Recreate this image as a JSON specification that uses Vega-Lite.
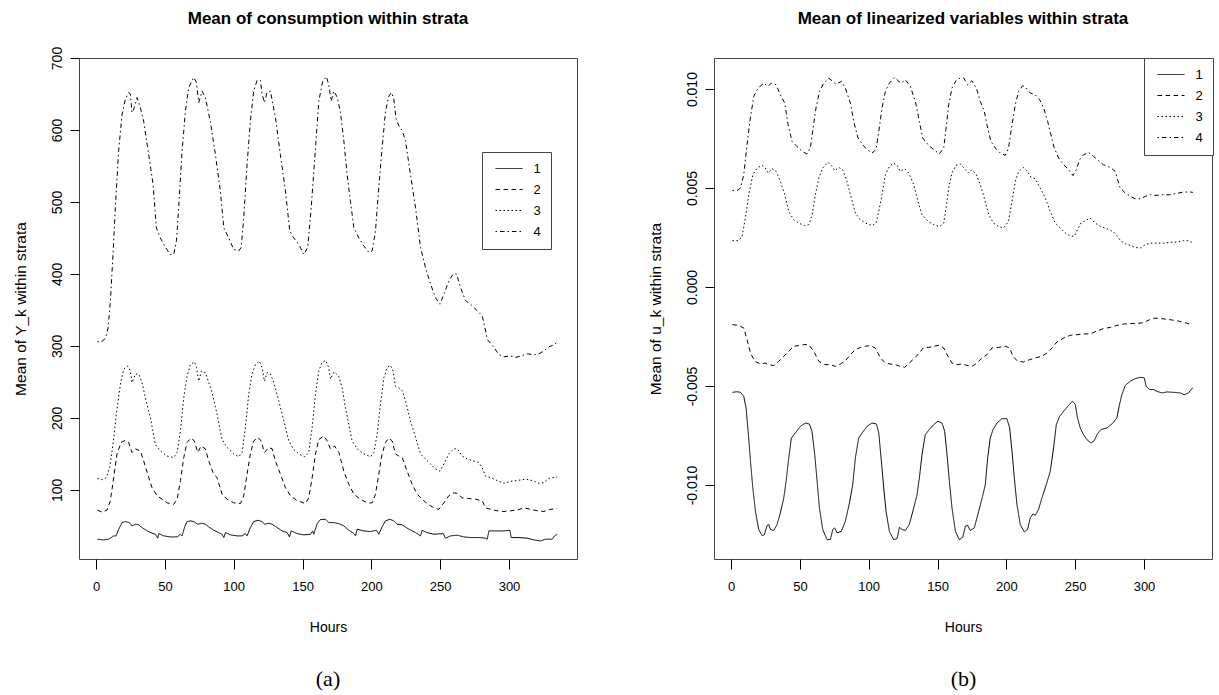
{
  "$schema": "https://vega.github.io/schema/vega-lite/v6.json",
  "background": "white",
  "padding": {"left": 12, "top": 9, "right": 4, "bottom": 4},
  "config": {
    "font": "Liberation Sans",
    "view": {"stroke": "#444", "strokeWidth": 1},
    "axis": {"domain": false, "grid": false, "ticks": true, "tickColor": "black", "labelColor": "black", "titleColor": "black", "labelFontSize": 13, "titleFontSize": 14, "titleFontWeight": "normal", "labelFont": "Liberation Sans", "titleFont": "Liberation Sans"},
    "axisX": {"tickSize": 10, "labelPadding": 11, "titlePadding": 27, "labelFlush": false},
    "axisY": {"tickSize": 9, "labelAngle": -90, "labelPadding": 6, "titlePadding": 22, "labelBaseline": "bottom", "labelAlign": "center", "labelFontSize": 14, "titleFontSize": 15.5},
    "title": {"fontSize": 17, "fontWeight": "bold", "font": "Liberation Sans", "color": "black", "anchor": "middle", "frame": "group", "offset": 18},
    "legend": {"title": null, "orient": "none", "symbolType": "M-1,0H8", "symbolSize": 36, "symbolStrokeWidth": 1, "symbolStrokeColor": "black", "symbolFillColor": "transparent", "labelFontSize": 13, "labelColor": "black", "strokeColor": "#444", "fillColor": "white", "padding": 10, "rowPadding": 7, "labelOffset": 28.5},
    "concat": {"spacing": 69}
  },
  "datasets": {
    "a": [
      {"s":"4","h":1,"v":306},{"s":"4","h":3,"v":305},{"s":"4","h":5.5,"v":308},{"s":"4","h":7,"v":312},{"s":"4","h":8.7,"v":325},{"s":"4","h":10.4,"v":362},{"s":"4","h":12.3,"v":427},{"s":"4","h":14,"v":492},{"s":"4","h":16.4,"v":571},{"s":"4","h":18.9,"v":622},{"s":"4","h":21.3,"v":643},{"s":"4","h":23.7,"v":652},{"s":"4","h":24.9,"v":650},{"s":"4","h":26.1,"v":624},{"s":"4","h":27.8,"v":631},{"s":"4","h":29.8,"v":645},{"s":"4","h":32.2,"v":631},{"s":"4","h":34.6,"v":612},{"s":"4","h":38.2,"v":566},{"s":"4","h":41.4,"v":525},{"s":"4","h":43.8,"v":464},{"s":"4","h":46.7,"v":450},{"s":"4","h":50.4,"v":437},{"s":"4","h":54,"v":427},{"s":"4","h":56.4,"v":427},{"s":"4","h":58.4,"v":446},{"s":"4","h":60,"v":492},{"s":"4","h":62.5,"v":571},{"s":"4","h":64.9,"v":626},{"s":"4","h":67.3,"v":659},{"s":"4","h":70.9,"v":673},{"s":"4","h":72.9,"v":666},{"s":"4","h":74.6,"v":638},{"s":"4","h":77,"v":654},{"s":"4","h":79.4,"v":645},{"s":"4","h":83,"v":612},{"s":"4","h":86.7,"v":566},{"s":"4","h":90.3,"v":515},{"s":"4","h":92.8,"v":464},{"s":"4","h":96.4,"v":450},{"s":"4","h":100,"v":434},{"s":"4","h":103.7,"v":432},{"s":"4","h":105.4,"v":437},{"s":"4","h":107.3,"v":478},{"s":"4","h":109.7,"v":552},{"s":"4","h":112.1,"v":612},{"s":"4","h":114.5,"v":654},{"s":"4","h":117,"v":669},{"s":"4","h":119.4,"v":669},{"s":"4","h":120.6,"v":650},{"s":"4","h":122.3,"v":638},{"s":"4","h":124.2,"v":652},{"s":"4","h":126.7,"v":654},{"s":"4","h":130.3,"v":617},{"s":"4","h":133.9,"v":566},{"s":"4","h":137.6,"v":515},{"s":"4","h":140.7,"v":460},{"s":"4","h":143.6,"v":450},{"s":"4","h":147.3,"v":441},{"s":"4","h":150.9,"v":427},{"s":"4","h":153.8,"v":437},{"s":"4","h":156.3,"v":492},{"s":"4","h":159.4,"v":575},{"s":"4","h":161.8,"v":640},{"s":"4","h":164.7,"v":668},{"s":"4","h":167.4,"v":674},{"s":"4","h":169,"v":663},{"s":"4","h":170.8,"v":640},{"s":"4","h":172.7,"v":654},{"s":"4","h":175.1,"v":646},{"s":"4","h":177.6,"v":624},{"s":"4","h":180,"v":585},{"s":"4","h":182.4,"v":538},{"s":"4","h":184.8,"v":501},{"s":"4","h":187.3,"v":464},{"s":"4","h":190.9,"v":450},{"s":"4","h":194.5,"v":439},{"s":"4","h":198.2,"v":430},{"s":"4","h":200.6,"v":432},{"s":"4","h":203,"v":460},{"s":"4","h":205.4,"v":520},{"s":"4","h":207.8,"v":575},{"s":"4","h":210.3,"v":626},{"s":"4","h":212.7,"v":647},{"s":"4","h":214.6,"v":652},{"s":"4","h":216.3,"v":643},{"s":"4","h":218,"v":615},{"s":"4","h":220,"v":606},{"s":"4","h":222.4,"v":599},{"s":"4","h":224.8,"v":585},{"s":"4","h":228.4,"v":538},{"s":"4","h":232.1,"v":492},{"s":"4","h":235.7,"v":437},{"s":"4","h":239.3,"v":409},{"s":"4","h":243,"v":386},{"s":"4","h":246.6,"v":367},{"s":"4","h":249.8,"v":358},{"s":"4","h":252.7,"v":372},{"s":"4","h":256.3,"v":390},{"s":"4","h":259.4,"v":400},{"s":"4","h":261.9,"v":400},{"s":"4","h":264.8,"v":381},{"s":"4","h":268.4,"v":363},{"s":"4","h":272,"v":358},{"s":"4","h":276.9,"v":349},{"s":"4","h":280.5,"v":342},{"s":"4","h":283,"v":321},{"s":"4","h":284.2,"v":309},{"s":"4","h":289,"v":298},{"s":"4","h":292.6,"v":288},{"s":"4","h":296.3,"v":285},{"s":"4","h":301.1,"v":286},{"s":"4","h":304.7,"v":284},{"s":"4","h":308.4,"v":286},{"s":"4","h":313.2,"v":289},{"s":"4","h":318,"v":288},{"s":"4","h":321.7,"v":289},{"s":"4","h":325.3,"v":293},{"s":"4","h":329,"v":299},{"s":"4","h":332.1,"v":301},{"s":"4","h":335,"v":305},
      {"s":"3","h":1,"v":116},{"s":"3","h":4.3,"v":114},{"s":"3","h":7.5,"v":117},{"s":"3","h":9.9,"v":131},{"s":"3","h":12.3,"v":163},{"s":"3","h":14.7,"v":205},{"s":"3","h":17.7,"v":247},{"s":"3","h":20.1,"v":268},{"s":"3","h":23,"v":272},{"s":"3","h":24.9,"v":265},{"s":"3","h":26.1,"v":249},{"s":"3","h":28.6,"v":261},{"s":"3","h":31,"v":261},{"s":"3","h":33.4,"v":249},{"s":"3","h":35.8,"v":228},{"s":"3","h":39.5,"v":200},{"s":"3","h":43.1,"v":163},{"s":"3","h":46.7,"v":154},{"s":"3","h":51.6,"v":147},{"s":"3","h":56.4,"v":145},{"s":"3","h":58.9,"v":152},{"s":"3","h":61.3,"v":182},{"s":"3","h":63.7,"v":228},{"s":"3","h":66.1,"v":258},{"s":"3","h":68.5,"v":274},{"s":"3","h":71.4,"v":278},{"s":"3","h":72.9,"v":270},{"s":"3","h":74.6,"v":251},{"s":"3","h":76.5,"v":265},{"s":"3","h":79.4,"v":263},{"s":"3","h":81.9,"v":249},{"s":"3","h":84.3,"v":235},{"s":"3","h":87.9,"v":205},{"s":"3","h":91.5,"v":170},{"s":"3","h":95.2,"v":159},{"s":"3","h":100,"v":150},{"s":"3","h":103.7,"v":146},{"s":"3","h":106.1,"v":152},{"s":"3","h":108.5,"v":187},{"s":"3","h":110.9,"v":233},{"s":"3","h":113.3,"v":261},{"s":"3","h":115.8,"v":274},{"s":"3","h":118.7,"v":279},{"s":"3","h":120.6,"v":270},{"s":"3","h":122.3,"v":251},{"s":"3","h":124.2,"v":263},{"s":"3","h":126.7,"v":261},{"s":"3","h":129.1,"v":249},{"s":"3","h":132.7,"v":224},{"s":"3","h":136.4,"v":196},{"s":"3","h":140,"v":168},{"s":"3","h":143.6,"v":156},{"s":"3","h":147.3,"v":150},{"s":"3","h":151.6,"v":146},{"s":"3","h":154.5,"v":152},{"s":"3","h":157,"v":187},{"s":"3","h":159.4,"v":233},{"s":"3","h":161.8,"v":265},{"s":"3","h":164.2,"v":277},{"s":"3","h":166.7,"v":280},{"s":"3","h":169,"v":270},{"s":"3","h":170.3,"v":254},{"s":"3","h":172.9,"v":264},{"s":"3","h":176.3,"v":258},{"s":"3","h":178.8,"v":242},{"s":"3","h":181.2,"v":214},{"s":"3","h":183.6,"v":191},{"s":"3","h":186,"v":168},{"s":"3","h":189.7,"v":157},{"s":"3","h":194.5,"v":150},{"s":"3","h":199.4,"v":146},{"s":"3","h":201.8,"v":152},{"s":"3","h":204.2,"v":177},{"s":"3","h":206.6,"v":219},{"s":"3","h":209.1,"v":256},{"s":"3","h":211.5,"v":270},{"s":"3","h":213.9,"v":273},{"s":"3","h":215.8,"v":265},{"s":"3","h":217.5,"v":244},{"s":"3","h":220,"v":242},{"s":"3","h":222.4,"v":238},{"s":"3","h":224.8,"v":224},{"s":"3","h":228.4,"v":196},{"s":"3","h":232.1,"v":173},{"s":"3","h":235.7,"v":150},{"s":"3","h":239.3,"v":143},{"s":"3","h":243,"v":136},{"s":"3","h":246.6,"v":129},{"s":"3","h":249.8,"v":126},{"s":"3","h":252.7,"v":136},{"s":"3","h":256.3,"v":150},{"s":"3","h":259.9,"v":157},{"s":"3","h":262.4,"v":157},{"s":"3","h":266,"v":147},{"s":"3","h":269.6,"v":143},{"s":"3","h":274.5,"v":140},{"s":"3","h":278.1,"v":138},{"s":"3","h":280.5,"v":131},{"s":"3","h":283,"v":119},{"s":"3","h":286.6,"v":117},{"s":"3","h":291.4,"v":113},{"s":"3","h":296.3,"v":109},{"s":"3","h":301.1,"v":112},{"s":"3","h":306,"v":113},{"s":"3","h":312,"v":115},{"s":"3","h":316.9,"v":113},{"s":"3","h":321.7,"v":109},{"s":"3","h":325.3,"v":110},{"s":"3","h":329,"v":116},{"s":"3","h":335,"v":118},
      {"s":"2","h":1,"v":72},{"s":"2","h":4.3,"v":69},{"s":"2","h":8,"v":72},{"s":"2","h":10.4,"v":85},{"s":"2","h":12.8,"v":117},{"s":"2","h":15.2,"v":150},{"s":"2","h":18.2,"v":166},{"s":"2","h":21.3,"v":169},{"s":"2","h":23.7,"v":166},{"s":"2","h":26.1,"v":152},{"s":"2","h":28.6,"v":157},{"s":"2","h":32.2,"v":154},{"s":"2","h":34.6,"v":140},{"s":"2","h":37.5,"v":122},{"s":"2","h":40.7,"v":103},{"s":"2","h":44.3,"v":92},{"s":"2","h":47.9,"v":87},{"s":"2","h":51.6,"v":82},{"s":"2","h":56.4,"v":80},{"s":"2","h":58.9,"v":87},{"s":"2","h":61.3,"v":113},{"s":"2","h":63.7,"v":145},{"s":"2","h":66.1,"v":166},{"s":"2","h":69,"v":172},{"s":"2","h":71.4,"v":168},{"s":"2","h":73.9,"v":152},{"s":"2","h":76.3,"v":161},{"s":"2","h":79.4,"v":157},{"s":"2","h":81.9,"v":140},{"s":"2","h":85,"v":124},{"s":"2","h":87.9,"v":117},{"s":"2","h":91.5,"v":94},{"s":"2","h":95.2,"v":87},{"s":"2","h":100,"v":82},{"s":"2","h":104.9,"v":81},{"s":"2","h":107.3,"v":92},{"s":"2","h":109.7,"v":122},{"s":"2","h":112.1,"v":150},{"s":"2","h":114.5,"v":168},{"s":"2","h":117.7,"v":173},{"s":"2","h":119.9,"v":168},{"s":"2","h":122.3,"v":152},{"s":"2","h":125.5,"v":159},{"s":"2","h":127.9,"v":157},{"s":"2","h":130.3,"v":140},{"s":"2","h":133.9,"v":122},{"s":"2","h":137.6,"v":103},{"s":"2","h":141.2,"v":92},{"s":"2","h":146.1,"v":85},{"s":"2","h":152.1,"v":81},{"s":"2","h":154.5,"v":89},{"s":"2","h":157,"v":117},{"s":"2","h":159.4,"v":150},{"s":"2","h":161.8,"v":170},{"s":"2","h":165.5,"v":175},{"s":"2","h":167.9,"v":168},{"s":"2","h":170.3,"v":157},{"s":"2","h":173.2,"v":161},{"s":"2","h":176.4,"v":152},{"s":"2","h":180,"v":126},{"s":"2","h":183.6,"v":108},{"s":"2","h":187.3,"v":94},{"s":"2","h":192.1,"v":87},{"s":"2","h":197,"v":82},{"s":"2","h":200.6,"v":82},{"s":"2","h":203,"v":94},{"s":"2","h":205.4,"v":122},{"s":"2","h":207.8,"v":150},{"s":"2","h":210.3,"v":166},{"s":"2","h":212.7,"v":172},{"s":"2","h":215.1,"v":168},{"s":"2","h":217.5,"v":150},{"s":"2","h":220,"v":147},{"s":"2","h":222.4,"v":145},{"s":"2","h":226,"v":126},{"s":"2","h":229.6,"v":108},{"s":"2","h":233.3,"v":94},{"s":"2","h":236.9,"v":87},{"s":"2","h":240.5,"v":81},{"s":"2","h":245.4,"v":75},{"s":"2","h":249,"v":73},{"s":"2","h":252.7,"v":82},{"s":"2","h":256.3,"v":92},{"s":"2","h":259.9,"v":96},{"s":"2","h":262.4,"v":95},{"s":"2","h":266,"v":89},{"s":"2","h":270.8,"v":88},{"s":"2","h":275.7,"v":87},{"s":"2","h":280.5,"v":85},{"s":"2","h":283,"v":75},{"s":"2","h":286.6,"v":73},{"s":"2","h":291.4,"v":71},{"s":"2","h":296.3,"v":70},{"s":"2","h":301.1,"v":71},{"s":"2","h":306,"v":72},{"s":"2","h":310.8,"v":75},{"s":"2","h":315.6,"v":73},{"s":"2","h":320.5,"v":71},{"s":"2","h":325.3,"v":70},{"s":"2","h":330.2,"v":73},{"s":"2","h":335,"v":74},
      {"s":"1","h":1,"v":31.5},{"s":"1","h":5.5,"v":30.5},{"s":"1","h":9.2,"v":31.5},{"s":"1","h":12.8,"v":36},{"s":"1","h":14.5,"v":36},{"s":"1","h":16.4,"v":45},{"s":"1","h":18.9,"v":54.6},{"s":"1","h":21.3,"v":56},{"s":"1","h":24.2,"v":54.6},{"s":"1","h":26.1,"v":50},{"s":"1","h":28.6,"v":52.3},{"s":"1","h":31,"v":51.4},{"s":"1","h":33.4,"v":47.7},{"s":"1","h":37.1,"v":43},{"s":"1","h":40.7,"v":39.8},{"s":"1","h":43.1,"v":38.4},{"s":"1","h":44.8,"v":32.9},{"s":"1","h":45.5,"v":39.3},{"s":"1","h":49.2,"v":36.1},{"s":"1","h":54,"v":34.7},{"s":"1","h":58.9,"v":34.7},{"s":"1","h":61.3,"v":38.4},{"s":"1","h":62.5,"v":36.1},{"s":"1","h":64.2,"v":47.7},{"s":"1","h":66.1,"v":56},{"s":"1","h":69,"v":57},{"s":"1","h":71.4,"v":55.5},{"s":"1","h":73.9,"v":52.3},{"s":"1","h":77,"v":53.7},{"s":"1","h":79.4,"v":52.3},{"s":"1","h":81.9,"v":48.6},{"s":"1","h":85.5,"v":44},{"s":"1","h":89.1,"v":40.7},{"s":"1","h":91.5,"v":38.4},{"s":"1","h":92.8,"v":33.8},{"s":"1","h":94,"v":40.7},{"s":"1","h":97.6,"v":37.5},{"s":"1","h":102.4,"v":36.1},{"s":"1","h":106.1,"v":36.1},{"s":"1","h":108.5,"v":39.3},{"s":"1","h":109.7,"v":36.1},{"s":"1","h":112.1,"v":47.7},{"s":"1","h":114.5,"v":56},{"s":"1","h":117.7,"v":57.8},{"s":"1","h":120.6,"v":56},{"s":"1","h":122.3,"v":52.3},{"s":"1","h":125.5,"v":53.7},{"s":"1","h":127.9,"v":52.3},{"s":"1","h":131.5,"v":47.7},{"s":"1","h":135.2,"v":43},{"s":"1","h":138.8,"v":40.7},{"s":"1","h":140.5,"v":34.7},{"s":"1","h":141.7,"v":43},{"s":"1","h":146.1,"v":39.3},{"s":"1","h":150.9,"v":37.5},{"s":"1","h":155.8,"v":38.4},{"s":"1","h":157.4,"v":43},{"s":"1","h":158.2,"v":38.4},{"s":"1","h":160.6,"v":53.2},{"s":"1","h":163,"v":58.8},{"s":"1","h":166.7,"v":59.2},{"s":"1","h":169,"v":54.6},{"s":"1","h":172.7,"v":54.6},{"s":"1","h":176.3,"v":53.2},{"s":"1","h":180,"v":50},{"s":"1","h":183.6,"v":44},{"s":"1","h":187.3,"v":39.3},{"s":"1","h":188.5,"v":36.1},{"s":"1","h":189.7,"v":45.4},{"s":"1","h":194.5,"v":43},{"s":"1","h":199.4,"v":42.1},{"s":"1","h":203.7,"v":44},{"s":"1","h":205.4,"v":38.4},{"s":"1","h":207.8,"v":48.6},{"s":"1","h":210.3,"v":57},{"s":"1","h":213.4,"v":59.2},{"s":"1","h":216.3,"v":57},{"s":"1","h":218.7,"v":52.3},{"s":"1","h":222.4,"v":51.4},{"s":"1","h":227.2,"v":45.4},{"s":"1","h":232.1,"v":40.7},{"s":"1","h":235.7,"v":36.1},{"s":"1","h":236.9,"v":44},{"s":"1","h":240.5,"v":40.7},{"s":"1","h":245.4,"v":38.4},{"s":"1","h":252.2,"v":39.3},{"s":"1","h":253.9,"v":32.9},{"s":"1","h":257.5,"v":36.1},{"s":"1","h":262.4,"v":37},{"s":"1","h":267.2,"v":34.7},{"s":"1","h":272,"v":33.8},{"s":"1","h":278.1,"v":33.8},{"s":"1","h":283,"v":32.9},{"s":"1","h":284.2,"v":31.5},{"s":"1","h":285.4,"v":43},{"s":"1","h":291.4,"v":43},{"s":"1","h":296.3,"v":43},{"s":"1","h":300.6,"v":44},{"s":"1","h":301.6,"v":33.8},{"s":"1","h":307.2,"v":33.8},{"s":"1","h":313.2,"v":32.9},{"s":"1","h":318,"v":30.5},{"s":"1","h":322.9,"v":29.1},{"s":"1","h":326.5,"v":31.5},{"s":"1","h":331.4,"v":31.5},{"s":"1","h":333.1,"v":36.1},{"s":"1","h":335,"v":38.4}
    ],
    "b": [
      {"s":"4","h":1,"v":0.00488},{"s":"4","h":4.4,"v":0.00488},{"s":"4","h":6.8,"v":0.005},{"s":"4","h":9.2,"v":0.00567},{"s":"4","h":11.6,"v":0.00719},{"s":"4","h":14,"v":0.00854},{"s":"4","h":16.5,"v":0.00963},{"s":"4","h":19.6,"v":0.01005},{"s":"4","h":23.7,"v":0.0103},{"s":"4","h":26.7,"v":0.01014},{"s":"4","h":29.3,"v":0.0103},{"s":"4","h":32.7,"v":0.01022},{"s":"4","h":35.8,"v":0.00971},{"s":"4","h":39,"v":0.00929},{"s":"4","h":41.4,"v":0.0082},{"s":"4","h":44.3,"v":0.00736},{"s":"4","h":47.9,"v":0.0071},{"s":"4","h":51.6,"v":0.00685},{"s":"4","h":55.2,"v":0.00672},{"s":"4","h":57.6,"v":0.00702},{"s":"4","h":59.6,"v":0.00803},{"s":"4","h":61.7,"v":0.00904},{"s":"4","h":64.2,"v":0.00988},{"s":"4","h":67.3,"v":0.0103},{"s":"4","h":71,"v":0.01055},{"s":"4","h":73.9,"v":0.01039},{"s":"4","h":76.3,"v":0.01025},{"s":"4","h":80.2,"v":0.01039},{"s":"4","h":83,"v":0.01005},{"s":"4","h":86.7,"v":0.00929},{"s":"4","h":89.1,"v":0.00837},{"s":"4","h":92.2,"v":0.00753},{"s":"4","h":95.6,"v":0.00719},{"s":"4","h":98.8,"v":0.00694},{"s":"4","h":102.4,"v":0.00677},{"s":"4","h":105.3,"v":0.00694},{"s":"4","h":107.3,"v":0.00786},{"s":"4","h":109.7,"v":0.00904},{"s":"4","h":112.1,"v":0.00988},{"s":"4","h":115,"v":0.0103},{"s":"4","h":118.9,"v":0.01059},{"s":"4","h":121.8,"v":0.01039},{"s":"4","h":123.7,"v":0.0103},{"s":"4","h":126.6,"v":0.01047},{"s":"4","h":130.2,"v":0.01014},{"s":"4","h":133.9,"v":0.00938},{"s":"4","h":136.8,"v":0.00837},{"s":"4","h":139.2,"v":0.00753},{"s":"4","h":143.6,"v":0.00715},{"s":"4","h":147.2,"v":0.00694},{"s":"4","h":151.3,"v":0.00673},{"s":"4","h":154.5,"v":0.00702},{"s":"4","h":156.2,"v":0.00803},{"s":"4","h":158.1,"v":0.00921},{"s":"4","h":160.5,"v":0.01005},{"s":"4","h":163.4,"v":0.01042},{"s":"4","h":166.5,"v":0.01056},{"s":"4","h":169,"v":0.01056},{"s":"4","h":171.9,"v":0.01022},{"s":"4","h":175,"v":0.01042},{"s":"4","h":178.2,"v":0.01005},{"s":"4","h":181.1,"v":0.00938},{"s":"4","h":184,"v":0.00887},{"s":"4","h":186.4,"v":0.00803},{"s":"4","h":188.8,"v":0.00736},{"s":"4","h":192,"v":0.00702},{"s":"4","h":195.6,"v":0.00677},{"s":"4","h":199.2,"v":0.00665},{"s":"4","h":201.6,"v":0.00702},{"s":"4","h":204.1,"v":0.0082},{"s":"4","h":206.5,"v":0.00921},{"s":"4","h":208.9,"v":0.00988},{"s":"4","h":211.8,"v":0.01017},{"s":"4","h":214.5,"v":0.01005},{"s":"4","h":217.4,"v":0.0098},{"s":"4","h":221,"v":0.00971},{"s":"4","h":224.2,"v":0.00946},{"s":"4","h":227.1,"v":0.00904},{"s":"4","h":230,"v":0.00837},{"s":"4","h":232.4,"v":0.00769},{"s":"4","h":234.8,"v":0.00702},{"s":"4","h":238,"v":0.00652},{"s":"4","h":241.6,"v":0.00618},{"s":"4","h":245.2,"v":0.00593},{"s":"4","h":248.4,"v":0.00563},{"s":"4","h":250.8,"v":0.00593},{"s":"4","h":253.2,"v":0.00643},{"s":"4","h":256.1,"v":0.00668},{"s":"4","h":259.7,"v":0.0068},{"s":"4","h":263.4,"v":0.0066},{"s":"4","h":267,"v":0.00638},{"s":"4","h":270.6,"v":0.00618},{"s":"4","h":275.5,"v":0.00604},{"s":"4","h":279.1,"v":0.00584},{"s":"4","h":280.8,"v":0.00542},{"s":"4","h":282.7,"v":0.005},{"s":"4","h":286.4,"v":0.00475},{"s":"4","h":290,"v":0.00458},{"s":"4","h":293.6,"v":0.00446},{"s":"4","h":297.3,"v":0.00446},{"s":"4","h":300.9,"v":0.00458},{"s":"4","h":304.5,"v":0.00466},{"s":"4","h":309.4,"v":0.00463},{"s":"4","h":314.2,"v":0.00466},{"s":"4","h":319.1,"v":0.00466},{"s":"4","h":323.9,"v":0.00473},{"s":"4","h":328.7,"v":0.0048},{"s":"4","h":333.6,"v":0.0048},{"s":"4","h":335.5,"v":0.00478},
      {"s":"3","h":1,"v":0.00234},{"s":"3","h":5.6,"v":0.00234},{"s":"3","h":8,"v":0.00256},{"s":"3","h":10.4,"v":0.00349},{"s":"3","h":12.9,"v":0.00467},{"s":"3","h":15.8,"v":0.00567},{"s":"3","h":18.9,"v":0.00601},{"s":"3","h":22.5,"v":0.00615},{"s":"3","h":24.9,"v":0.00601},{"s":"3","h":26.9,"v":0.00576},{"s":"3","h":29.8,"v":0.00598},{"s":"3","h":32.7,"v":0.00584},{"s":"3","h":35.8,"v":0.00534},{"s":"3","h":39,"v":0.00467},{"s":"3","h":41.9,"v":0.00382},{"s":"3","h":45.5,"v":0.0034},{"s":"3","h":49.2,"v":0.00323},{"s":"3","h":53.5,"v":0.0031},{"s":"3","h":56.4,"v":0.00315},{"s":"3","h":58.9,"v":0.00366},{"s":"3","h":61.3,"v":0.00467},{"s":"3","h":63.7,"v":0.00551},{"s":"3","h":66.6,"v":0.00601},{"s":"3","h":70.5,"v":0.00631},{"s":"3","h":73.4,"v":0.00609},{"s":"3","h":75.3,"v":0.00588},{"s":"3","h":78.2,"v":0.00604},{"s":"3","h":81.1,"v":0.00593},{"s":"3","h":84.2,"v":0.00534},{"s":"3","h":87.4,"v":0.00449},{"s":"3","h":90.3,"v":0.00374},{"s":"3","h":93.9,"v":0.0034},{"s":"3","h":97.6,"v":0.00323},{"s":"3","h":102.4,"v":0.0031},{"s":"3","h":105.3,"v":0.00323},{"s":"3","h":107.3,"v":0.00382},{"s":"3","h":109.7,"v":0.00467},{"s":"3","h":112.1,"v":0.00567},{"s":"3","h":115,"v":0.00609},{"s":"3","h":118.1,"v":0.00626},{"s":"3","h":121.3,"v":0.00609},{"s":"3","h":123,"v":0.00584},{"s":"3","h":126.1,"v":0.00598},{"s":"3","h":129,"v":0.00576},{"s":"3","h":132.7,"v":0.00517},{"s":"3","h":135.8,"v":0.00433},{"s":"3","h":138.7,"v":0.00366},{"s":"3","h":143.1,"v":0.00332},{"s":"3","h":147.2,"v":0.00315},{"s":"3","h":151.3,"v":0.00305},{"s":"3","h":154.5,"v":0.00323},{"s":"3","h":156.2,"v":0.00399},{"s":"3","h":158.1,"v":0.005},{"s":"3","h":160.5,"v":0.00576},{"s":"3","h":163.4,"v":0.00615},{"s":"3","h":166.5,"v":0.00622},{"s":"3","h":170.2,"v":0.00593},{"s":"3","h":172.6,"v":0.00576},{"s":"3","h":175,"v":0.00593},{"s":"3","h":178.2,"v":0.00567},{"s":"3","h":181.1,"v":0.00517},{"s":"3","h":184,"v":0.00449},{"s":"3","h":187.1,"v":0.00366},{"s":"3","h":190.7,"v":0.00323},{"s":"3","h":194.4,"v":0.00306},{"s":"3","h":198,"v":0.00298},{"s":"3","h":201.6,"v":0.00332},{"s":"3","h":204.1,"v":0.00433},{"s":"3","h":206.5,"v":0.00534},{"s":"3","h":208.9,"v":0.00584},{"s":"3","h":212.5,"v":0.00604},{"s":"3","h":215.4,"v":0.00584},{"s":"3","h":217.9,"v":0.00554},{"s":"3","h":221,"v":0.00547},{"s":"3","h":224.6,"v":0.005},{"s":"3","h":228.3,"v":0.00449},{"s":"3","h":231.9,"v":0.00382},{"s":"3","h":235.5,"v":0.00323},{"s":"3","h":239.2,"v":0.00298},{"s":"3","h":242.8,"v":0.00273},{"s":"3","h":246.4,"v":0.00259},{"s":"3","h":249.3,"v":0.00256},{"s":"3","h":251.7,"v":0.0029},{"s":"3","h":254.2,"v":0.00323},{"s":"3","h":257.3,"v":0.00335},{"s":"3","h":260.9,"v":0.00349},{"s":"3","h":264.6,"v":0.00323},{"s":"3","h":268.2,"v":0.00306},{"s":"3","h":273.1,"v":0.00295},{"s":"3","h":277.9,"v":0.00278},{"s":"3","h":280.8,"v":0.00256},{"s":"3","h":283.2,"v":0.00231},{"s":"3","h":286.4,"v":0.00219},{"s":"3","h":290,"v":0.00211},{"s":"3","h":293.6,"v":0.002},{"s":"3","h":297.3,"v":0.00197},{"s":"3","h":300.9,"v":0.00214},{"s":"3","h":304.5,"v":0.00222},{"s":"3","h":309.4,"v":0.00222},{"s":"3","h":314.2,"v":0.00222},{"s":"3","h":319.1,"v":0.00226},{"s":"3","h":323.9,"v":0.00227},{"s":"3","h":328.7,"v":0.00234},{"s":"3","h":332.4,"v":0.00234},{"s":"3","h":335.5,"v":0.00222},
      {"s":"2","h":1,"v":-0.0019},{"s":"2","h":5.6,"v":-0.00194},{"s":"2","h":9.2,"v":-0.00207},{"s":"2","h":11.6,"v":-0.00266},{"s":"2","h":14.1,"v":-0.00333},{"s":"2","h":17.2,"v":-0.00375},{"s":"2","h":21.3,"v":-0.00389},{"s":"2","h":24.5,"v":-0.00384},{"s":"2","h":27.4,"v":-0.00392},{"s":"2","h":31,"v":-0.00397},{"s":"2","h":34.6,"v":-0.00375},{"s":"2","h":38.3,"v":-0.0035},{"s":"2","h":41.9,"v":-0.00325},{"s":"2","h":45.5,"v":-0.00299},{"s":"2","h":49.2,"v":-0.00296},{"s":"2","h":52.8,"v":-0.00291},{"s":"2","h":56.4,"v":-0.00291},{"s":"2","h":60.1,"v":-0.00325},{"s":"2","h":63.7,"v":-0.00375},{"s":"2","h":68.1,"v":-0.00392},{"s":"2","h":72.2,"v":-0.00392},{"s":"2","h":75.8,"v":-0.00401},{"s":"2","h":79.4,"v":-0.00389},{"s":"2","h":83.1,"v":-0.00372},{"s":"2","h":86.7,"v":-0.00342},{"s":"2","h":90.3,"v":-0.00316},{"s":"2","h":94,"v":-0.00305},{"s":"2","h":97.6,"v":-0.00299},{"s":"2","h":101.2,"v":-0.00296},{"s":"2","h":104.8,"v":-0.00308},{"s":"2","h":108.5,"v":-0.00358},{"s":"2","h":112.1,"v":-0.00384},{"s":"2","h":115.7,"v":-0.00389},{"s":"2","h":119.4,"v":-0.00392},{"s":"2","h":123,"v":-0.00401},{"s":"2","h":126.1,"v":-0.00406},{"s":"2","h":129.5,"v":-0.00384},{"s":"2","h":133.4,"v":-0.00358},{"s":"2","h":136.8,"v":-0.00333},{"s":"2","h":139.9,"v":-0.00305},{"s":"2","h":143.6,"v":-0.00305},{"s":"2","h":147.2,"v":-0.00299},{"s":"2","h":151.3,"v":-0.00294},{"s":"2","h":154.5,"v":-0.00308},{"s":"2","h":156.9,"v":-0.00342},{"s":"2","h":160.5,"v":-0.00384},{"s":"2","h":164.2,"v":-0.00392},{"s":"2","h":167.8,"v":-0.00389},{"s":"2","h":171.4,"v":-0.00396},{"s":"2","h":175,"v":-0.00401},{"s":"2","h":178.6,"v":-0.00384},{"s":"2","h":182.3,"v":-0.00358},{"s":"2","h":185.9,"v":-0.00342},{"s":"2","h":189.5,"v":-0.00308},{"s":"2","h":194.4,"v":-0.00305},{"s":"2","h":199.2,"v":-0.00299},{"s":"2","h":202.4,"v":-0.00308},{"s":"2","h":204.8,"v":-0.0035},{"s":"2","h":208.2,"v":-0.00375},{"s":"2","h":212.5,"v":-0.00379},{"s":"2","h":216.9,"v":-0.00367},{"s":"2","h":221,"v":-0.00358},{"s":"2","h":225.8,"v":-0.0035},{"s":"2","h":229.5,"v":-0.00333},{"s":"2","h":233.1,"v":-0.00308},{"s":"2","h":236.7,"v":-0.00278},{"s":"2","h":241.6,"v":-0.00258},{"s":"2","h":246.4,"v":-0.00244},{"s":"2","h":251.3,"v":-0.00241},{"s":"2","h":256.1,"v":-0.00237},{"s":"2","h":260.9,"v":-0.00237},{"s":"2","h":265.8,"v":-0.00222},{"s":"2","h":270.6,"v":-0.0021},{"s":"2","h":275.5,"v":-0.00204},{"s":"2","h":280.3,"v":-0.00194},{"s":"2","h":285.2,"v":-0.00187},{"s":"2","h":290,"v":-0.00184},{"s":"2","h":294.8,"v":-0.00184},{"s":"2","h":299.7,"v":-0.0018},{"s":"2","h":304,"v":-0.00165},{"s":"2","h":308,"v":-0.00157},{"s":"2","h":313,"v":-0.0016},{"s":"2","h":319,"v":-0.00165},{"s":"2","h":325,"v":-0.00172},{"s":"2","h":331,"v":-0.00182},{"s":"2","h":335,"v":-0.00193},
      {"s":"1","h":1,"v":-0.00532},{"s":"1","h":4.4,"v":-0.00529},{"s":"1","h":6.8,"v":-0.00532},{"s":"1","h":9.2,"v":-0.00552},{"s":"1","h":10.9,"v":-0.00611},{"s":"1","h":12.4,"v":-0.00729},{"s":"1","h":14.1,"v":-0.0088},{"s":"1","h":15.8,"v":-0.01015},{"s":"1","h":17.7,"v":-0.01133},{"s":"1","h":20.1,"v":-0.01225},{"s":"1","h":22.5,"v":-0.01256},{"s":"1","h":24.2,"v":-0.01251},{"s":"1","h":26.2,"v":-0.01204},{"s":"1","h":27.4,"v":-0.012},{"s":"1","h":28.6,"v":-0.01225},{"s":"1","h":31,"v":-0.0123},{"s":"1","h":33.4,"v":-0.012},{"s":"1","h":35.8,"v":-0.01141},{"s":"1","h":38.3,"v":-0.01066},{"s":"1","h":40,"v":-0.00981},{"s":"1","h":41.9,"v":-0.00864},{"s":"1","h":43.8,"v":-0.00763},{"s":"1","h":46.7,"v":-0.00737},{"s":"1","h":50.4,"v":-0.00704},{"s":"1","h":54,"v":-0.00687},{"s":"1","h":56.9,"v":-0.00692},{"s":"1","h":58.8,"v":-0.00729},{"s":"1","h":60.8,"v":-0.00847},{"s":"1","h":62.5,"v":-0.00981},{"s":"1","h":64.2,"v":-0.01116},{"s":"1","h":66.6,"v":-0.01225},{"s":"1","h":69.7,"v":-0.01276},{"s":"1","h":72.1,"v":-0.01276},{"s":"1","h":73.9,"v":-0.01225},{"s":"1","h":75.3,"v":-0.01217},{"s":"1","h":77,"v":-0.01242},{"s":"1","h":80.1,"v":-0.01234},{"s":"1","h":83,"v":-0.01184},{"s":"1","h":86,"v":-0.01091},{"s":"1","h":88.4,"v":-0.00998},{"s":"1","h":90.3,"v":-0.00864},{"s":"1","h":92.7,"v":-0.00763},{"s":"1","h":95.2,"v":-0.00737},{"s":"1","h":98.8,"v":-0.00704},{"s":"1","h":102.4,"v":-0.00687},{"s":"1","h":105.6,"v":-0.00692},{"s":"1","h":107.3,"v":-0.00737},{"s":"1","h":109.2,"v":-0.0088},{"s":"1","h":110.9,"v":-0.01015},{"s":"1","h":112.6,"v":-0.01133},{"s":"1","h":115,"v":-0.01234},{"s":"1","h":118.1,"v":-0.01276},{"s":"1","h":120.6,"v":-0.01271},{"s":"1","h":122.3,"v":-0.01214},{"s":"1","h":124.2,"v":-0.01225},{"s":"1","h":126.6,"v":-0.0123},{"s":"1","h":129.5,"v":-0.012},{"s":"1","h":132.7,"v":-0.01116},{"s":"1","h":135.1,"v":-0.01049},{"s":"1","h":136.8,"v":-0.00965},{"s":"1","h":138.7,"v":-0.00847},{"s":"1","h":141.1,"v":-0.00746},{"s":"1","h":144,"v":-0.0072},{"s":"1","h":147.2,"v":-0.00695},{"s":"1","h":150.3,"v":-0.00678},{"s":"1","h":153.3,"v":-0.00687},{"s":"1","h":155.2,"v":-0.00729},{"s":"1","h":156.9,"v":-0.00847},{"s":"1","h":158.6,"v":-0.00981},{"s":"1","h":160.5,"v":-0.01116},{"s":"1","h":163,"v":-0.01234},{"s":"1","h":165.8,"v":-0.01276},{"s":"1","h":168.3,"v":-0.01264},{"s":"1","h":170.2,"v":-0.01209},{"s":"1","h":171.9,"v":-0.01204},{"s":"1","h":173.8,"v":-0.0123},{"s":"1","h":176.7,"v":-0.01217},{"s":"1","h":179.9,"v":-0.01133},{"s":"1","h":183,"v":-0.01049},{"s":"1","h":184.7,"v":-0.00998},{"s":"1","h":186.4,"v":-0.00864},{"s":"1","h":188.3,"v":-0.00763},{"s":"1","h":190.3,"v":-0.0072},{"s":"1","h":193.2,"v":-0.00687},{"s":"1","h":196.8,"v":-0.00665},{"s":"1","h":200.4,"v":-0.00665},{"s":"1","h":202.4,"v":-0.00712},{"s":"1","h":204.1,"v":-0.0083},{"s":"1","h":205.8,"v":-0.00965},{"s":"1","h":207.7,"v":-0.01099},{"s":"1","h":210.1,"v":-0.012},{"s":"1","h":213,"v":-0.01237},{"s":"1","h":215.4,"v":-0.01225},{"s":"1","h":217.4,"v":-0.01166},{"s":"1","h":219.3,"v":-0.01146},{"s":"1","h":221,"v":-0.01153},{"s":"1","h":223.4,"v":-0.01124},{"s":"1","h":225.8,"v":-0.01066},{"s":"1","h":229,"v":-0.00998},{"s":"1","h":231.9,"v":-0.00931},{"s":"1","h":234.3,"v":-0.00813},{"s":"1","h":236.3,"v":-0.00695},{"s":"1","h":238.7,"v":-0.00653},{"s":"1","h":241.6,"v":-0.00628},{"s":"1","h":245.2,"v":-0.00598},{"s":"1","h":248.1,"v":-0.00577},{"s":"1","h":250.1,"v":-0.00594},{"s":"1","h":251.7,"v":-0.00661},{"s":"1","h":253.7,"v":-0.00712},{"s":"1","h":256.1,"v":-0.00746},{"s":"1","h":258.5,"v":-0.00771},{"s":"1","h":261.4,"v":-0.00788},{"s":"1","h":263.9,"v":-0.00776},{"s":"1","h":265.8,"v":-0.00746},{"s":"1","h":268.7,"v":-0.0072},{"s":"1","h":273.1,"v":-0.00712},{"s":"1","h":277.4,"v":-0.00687},{"s":"1","h":280.3,"v":-0.00661},{"s":"1","h":282.2,"v":-0.00594},{"s":"1","h":283.9,"v":-0.00544},{"s":"1","h":286.4,"v":-0.00497},{"s":"1","h":290,"v":-0.00476},{"s":"1","h":293.6,"v":-0.00463},{"s":"1","h":297.3,"v":-0.00456},{"s":"1","h":300.2,"v":-0.00459},{"s":"1","h":301.6,"v":-0.00502},{"s":"1","h":304.1,"v":-0.00518},{"s":"1","h":307,"v":-0.00518},{"s":"1","h":309.4,"v":-0.00527},{"s":"1","h":313,"v":-0.00535},{"s":"1","h":316.6,"v":-0.0053},{"s":"1","h":321.5,"v":-0.00532},{"s":"1","h":326.3,"v":-0.00535},{"s":"1","h":329.2,"v":-0.00544},{"s":"1","h":332.4,"v":-0.00535},{"s":"1","h":334.1,"v":-0.00518},{"s":"1","h":335.5,"v":-0.0051}
    ]
  },
  "hconcat": [
    {
      "title": {"text": "(a)", "orient": "bottom", "font": "Liberation Serif", "fontSize": 22, "fontWeight": "normal", "frame": "bounds", "anchor": "middle", "dx": 33, "offset": 34},
      "vconcat": [
        {
          "title": {"text": "Mean of consumption within strata", "offset": 18},
          "width": 498,
          "height": 501,
          "data": {"name": "a"},
          "mark": {"type": "line", "color": "black", "strokeWidth": 1, "clip": true},
          "encoding": {
            "x": {"field": "h", "type": "quantitative", "scale": {"domain": [-12.4, 349.4], "nice": false, "zero": false}, "axis": {"values": [0, 50, 100, 150, 200, 250, 300], "title": "Hours"}},
            "y": {"field": "v", "type": "quantitative", "scale": {"domain": [4, 700], "nice": false, "zero": false}, "axis": {"values": [100, 200, 300, 400, 500, 600, 700], "title": "Mean of Y_k within strata"}},
            "strokeDash": {"field": "s", "type": "nominal", "scale": {"domain": ["1", "2", "3", "4"], "range": [[1, 0], [4.5, 3.5], [1.5, 2.5], [1.5, 3, 4.5, 3]]}, "legend": {"legendX": 403, "legendY": 94}}
          }
        }
      ]
    },
    {
      "title": {"text": "(b)", "orient": "bottom", "font": "Liberation Serif", "fontSize": 22, "fontWeight": "normal", "frame": "bounds", "anchor": "middle", "dx": 33, "offset": 34},
      "vconcat": [
        {
          "title": {"text": "Mean of linearized variables within strata", "offset": 30},
          "width": 498,
          "height": 501,
          "data": {"name": "b"},
          "mark": {"type": "line", "color": "black", "strokeWidth": 1, "clip": true},
          "encoding": {
            "x": {"field": "h", "type": "quantitative", "scale": {"domain": [-12.4, 349.4], "nice": false, "zero": false}, "axis": {"values": [0, 50, 100, 150, 200, 250, 300], "title": "Hours"}},
            "y": {"field": "v", "type": "quantitative", "scale": {"domain": [-0.01374, 0.01157], "nice": false, "zero": false}, "axis": {"values": [-0.01, -0.005, 0, 0.005, 0.01], "labelExpr": "replace(format(datum.value, '.3f'), '\u2212', '-')", "title": "Mean of u_k within strata"}},
            "strokeDash": {"field": "s", "type": "nominal", "scale": {"domain": ["1", "2", "3", "4"], "range": [[1, 0], [4.5, 3.5], [1.5, 2.5], [1.5, 3, 4.5, 3]]}, "legend": {"legendX": 430, "legendY": 0}}
          }
        }
      ]
    }
  ],
  "resolve": {"scale": {"x": "independent", "y": "independent", "strokeDash": "independent"}, "legend": {"strokeDash": "independent"}}
}
